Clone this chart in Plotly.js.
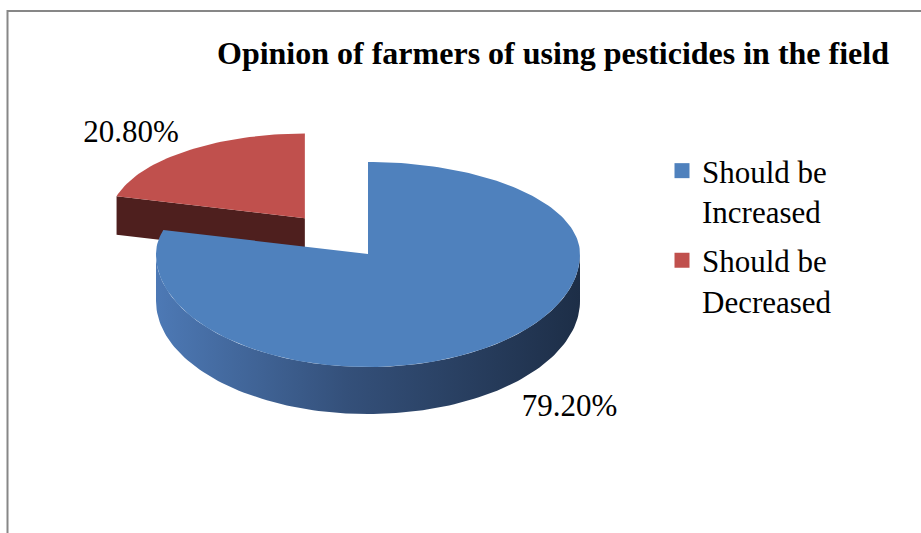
<!DOCTYPE html>
<html>
<head>
<meta charset="utf-8">
<script src="https://cdn.plot.ly/plotly-3.0.1.min.js"></script>
<style>
  html, body { margin: 0; padding: 0; background: #ffffff; }
  #chart { width: 921px; height: 533px; }
</style>
</head>
<body>
<div id="chart"></div>
<script>
// Survey answers: share of farmers (%) per opinion
const categories = ['Should be<br>Increased', 'Should be<br>Decreased'];
const shares = [79.2, 20.8];
const topColors = ['#4f81bd', '#c0504d'];
const wallColorsLight = ['#4d79b5', '#4e1f1e'];
const wallColorsDark = ['#1d2e47', '#4e1f1e'];
const pulls = [0, 0.49];

const FONT = "'Liberation Serif', 'Times New Roman', Times, serif";

// Tilted-disc geometry (drawing units = pixels of the plot area)
const disc = { cx: 368, cy: 254, rx: 212, ryBack: 92, ryFront: 113, depth: 47 };
const rad = d => d * Math.PI / 180;
const ryAt = a => (Math.cos(rad(a)) >= 0 ? disc.ryBack : disc.ryFront);

// point on the rim at angle a (degrees clockwise from 12 o'clock)
function rim(a, s) {
  return {
    x: s.ox + s.scale * disc.rx * Math.sin(rad(a)),
    y: s.oy - s.scale * ryAt(a) * Math.cos(rad(a))
  };
}

// build slices from the shares
const total = shares.reduce((p, v) => p + v, 0);
let acc = 0;
const slices = shares.map((v, i) => {
  const a0 = acc / total * 360;
  acc += v;
  const a1 = acc / total * 360;
  const mid = (a0 + a1) / 2;
  const scale = pulls[i] > 0 ? 0.92 : 1;
  const ox = disc.cx + pulls[i] * disc.rx * Math.sin(rad(mid));
  const oy = disc.cy - pulls[i] * ryAt(mid) * Math.cos(rad(mid));
  const dz = disc.depth * (pulls[i] > 0 ? 0.82 : 1);
  return { i, a0, a1, mid, scale, ox, oy, dz };
});

function arc(s, from, to, dz) {
  const xs = [], ys = [];
  const n = Math.max(2, Math.ceil(Math.abs(to - from) / 1.5));
  for (let k = 0; k <= n; k++) {
    const p = rim(from + (to - from) * k / n, s);
    xs.push(p.x); ys.push(p.y + dz);
  }
  return { xs, ys };
}

const traces = [];
const poly = (xs, ys, extra) => Object.assign({
  type: 'scatter', mode: 'lines', x: xs.concat([xs[0]]), y: ys.concat([ys[0]]),
  fill: 'toself', line: { width: 0 }, showlegend: false, hoverinfo: 'skip'
}, extra);

// paint back to front
slices.slice().sort((p, q) => p.oy - q.oy).forEach(s => {
  const i = s.i;
  // radial face at the start angle, visible when it faces the viewer
  if (Math.sin(rad(s.a0)) < -1e-6) {
    const e = rim(s.a0, s);
    traces.push(poly([s.ox, e.x, e.x, s.ox], [s.oy, e.y, e.y + s.dz, s.oy + s.dz],
      { fillcolor: wallColorsLight[i] }));
  }
  // radial face at the end angle
  if (Math.sin(rad(s.a1)) > 1e-6) {
    const e = rim(s.a1, s);
    traces.push(poly([s.ox, e.x, e.x, s.ox], [s.oy, e.y, e.y + s.dz, s.oy + s.dz],
      { fillcolor: wallColorsLight[i] }));
  }
  // outer curved wall on the front half
  const f0 = Math.max(s.a0, 90), f1 = Math.min(s.a1, 270);
  if (f1 > f0) {
    const top = arc(s, f0, f1, 0), bot = arc(s, f1, f0, s.dz);
    traces.push(poly(top.xs.concat(bot.xs), top.ys.concat(bot.ys), {
      fillcolor: wallColorsLight[i],
      fillgradient: { type: 'horizontal',
        colorscale: [[0, wallColorsLight[i]], [0.45, '#34507a'], [1, wallColorsDark[i]]] }
    }));
  }
  // top face
  const t = arc(s, s.a0, s.a1, 0);
  traces.push(poly([s.ox].concat(t.xs), [s.oy].concat(t.ys), { fillcolor: topColors[i] }));
});

// value labels just outside each slice
const labelGapX = 1.13, labelGapY = 1.02, labelShiftX = 8;
slices.forEach(s => {
  const sn = Math.sin(rad(s.mid)), cs = Math.cos(rad(s.mid));
  const x = s.ox + labelGapX * s.scale * disc.rx * sn + labelShiftX;
  let y = s.oy - labelGapY * s.scale * ryAt(s.mid) * cs;
  if (cs < 0) y += s.dz;
  traces.push({
    type: 'scatter', mode: 'text', x: [x], y: [y],
    text: [shares[s.i].toFixed(2) + '%'],
    textposition: (cs >= 0 ? 'top ' : 'bottom ') + (sn < 0 ? 'left' : 'right'),
    textfont: { family: FONT, size: 31, color: '#000000' },
    showlegend: false, hoverinfo: 'skip'
  });
});

// legend entries
categories.forEach((c, i) => {
  traces.push({
    type: 'scatter', mode: 'markers', x: [null], y: [null], name: c,
    legendgroup: 'g' + i,
    marker: { symbol: 'square', size: 15, color: topColors[i] },
    hoverinfo: 'skip'
  });
});

const layout = {
  width: 921, height: 533,
  margin: { l: 0, r: 0, t: 0, b: 0 },
  paper_bgcolor: '#ffffff', plot_bgcolor: '#ffffff',
  showlegend: true,
  title: {
    text: 'Opinion of farmers of using pesticides in the field',
    font: { family: FONT, size: 32, color: '#000000', weight: 'bold' },
    x: 553 / 921, xanchor: 'center', y: 1 - 53 / 533, yanchor: 'middle'
  },
  xaxis: { range: [0, 921], visible: false, fixedrange: true },
  yaxis: { range: [533, 0], visible: false, fixedrange: true },
  legend: {
    x: 662 / 921, xanchor: 'left', y: 1 - 144 / 533, yanchor: 'top',
    font: { family: FONT, size: 31, color: '#000000' },
    valign: 'top', bgcolor: 'rgba(0,0,0,0)', tracegroupgap: 6
  },
  shapes: [{
    type: 'path', xref: 'x', yref: 'y',
    path: 'M 7.5 533 L 7.5 11 L 921 11',
    line: { color: '#878787', width: 2 }
  }]
};

Plotly.newPlot('chart', traces, layout, { displayModeBar: false, staticPlot: true });
</script>
</body>
</html>
